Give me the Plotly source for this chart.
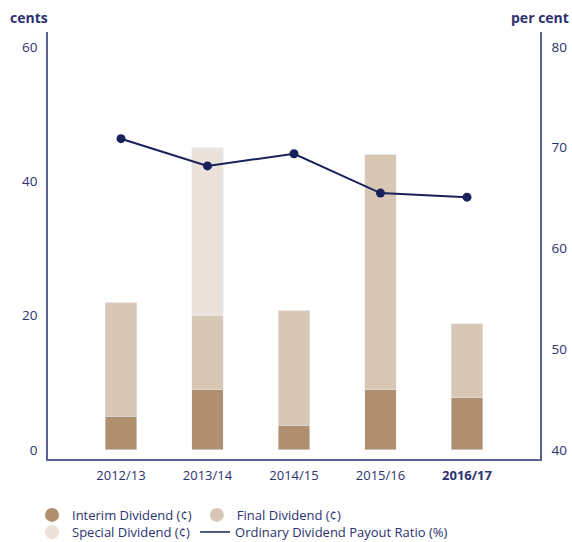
import plotly.graph_objects as go

years = ["2012/13", "2013/14", "2014/15", "2015/16", "2016/17"]
tick_labels = ["2012/13", "2013/14", "2014/15", "2015/16", "<b>2016/17</b>"]
interim = [5, 9, 3.7, 9, 7.8]
final = [17, 11, 17.1, 35, 11]
special = [0, 25, 0, 0, 0]
payout_ratio = [70.9, 68.2, 69.4, 65.5, 65.1]

NAVY = "#18215A"
AXIS = "#5A6194"
TXT = "#2B3270"
C_INT = "#B08F6E"
C_FIN = "#D9C7B5"
C_SPE = "#EAE2DB"
FONT = "Open Sans"

fig = go.Figure()
fig.add_trace(go.Bar(x=years, y=interim, marker_color=C_INT, showlegend=False, name="Interim Dividend (¢)"))
fig.add_trace(go.Bar(x=years, y=final, marker_color=C_FIN, showlegend=False, name="Final Dividend (¢)"))
fig.add_trace(go.Bar(x=years, y=special, marker_color=C_SPE, showlegend=False, name="Special Dividend (¢)"))
fig.add_trace(go.Scatter(x=years, y=payout_ratio, yaxis="y2", mode="lines+markers",
                         line=dict(color=NAVY, width=2), marker=dict(color=NAVY, size=9),
                         showlegend=False, name="Ordinary Dividend Payout Ratio (%)"))

# legend-only entries
def leg_marker(name, color, legend):
    fig.add_trace(go.Scatter(x=[None], y=[None], mode="markers", name=name,
                             marker=dict(color=color, size=14, symbol="circle"), legend=legend))

leg_marker("Interim Dividend (¢)", C_INT, "legend")
leg_marker("Final Dividend (¢)", C_FIN, "legend")
leg_marker("Special Dividend (¢)", C_SPE, "legend2")
fig.add_trace(go.Scatter(x=[None], y=[None], mode="lines", name="Ordinary Dividend Payout Ratio (%)",
                         line=dict(color=NAVY, width=1.5), legend="legend2"))

leg_common = dict(orientation="h", x=-0.0325, xanchor="left", yanchor="middle",
                  traceorder="normal", bgcolor="rgba(0,0,0,0)",
                  font=dict(family=FONT, size=13, color=TXT), itemclick=False)

fig.update_layout(
    width=572, height=542,
    margin=dict(l=48, r=32, t=32, b=83, autoexpand=False),
    paper_bgcolor="white", plot_bgcolor="white",
    barmode="stack", bargap=0.64,
    font=dict(family=FONT, size=13, color=TXT),
    xaxis=dict(range=[-0.844, 4.844], tickvals=years, ticktext=tick_labels,
               showline=True, linecolor=AXIS, linewidth=1.5, showgrid=False, ticks="",
               ticklabelstandoff=4, tickfont=dict(family=FONT, size=13, color=TXT)),
    yaxis=dict(range=[-1.34, 62.2], tickvals=[0, 20, 40, 60], showline=True, linecolor=AXIS,
               linewidth=1.5, showgrid=False, zeroline=False, ticks="", ticklabelstandoff=6,
               tickfont=dict(family=FONT, size=13.5, color=TXT)),
    yaxis2=dict(range=[39.107, 81.49], tickvals=[40, 50, 60, 70, 80], overlaying="y", side="right",
                showline=True, linecolor=AXIS, linewidth=1.5, showgrid=False, zeroline=False,
                ticks="", ticklabelstandoff=7, tickfont=dict(family=FONT, size=13.5, color=TXT)),
    legend=dict(y=-0.131, **leg_common),
    legend2=dict(y=-0.171, **leg_common),
    annotations=[
        dict(text="<b>cents</b>", xref="paper", yref="paper", x=-0.081, y=1.035,
             xanchor="left", yanchor="middle", showarrow=False,
             font=dict(family=FONT, size=14, color=TXT)),
        dict(text="<b>per cent</b>", xref="paper", yref="paper", x=1.063, y=1.035,
             xanchor="right", yanchor="middle", showarrow=False,
             font=dict(family=FONT, size=14, color=TXT)),
    ],
)

# remove the default page margin so the 572x542 figure fills the window exactly
fig.write_html("out.html",
               config={"displayModeBar": False},
               post_script="document.body.style.margin='0';document.body.style.overflow='hidden';")
